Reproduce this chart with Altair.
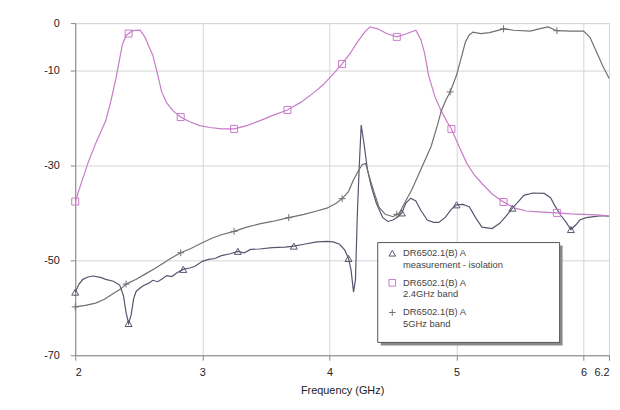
import altair as alt
import pandas as pd

# ---------------- data ----------------
iso_x = [2.00, 2.03, 2.06, 2.10, 2.14, 2.20, 2.24, 2.30, 2.35, 2.38, 2.40, 2.42, 2.44, 2.46, 2.48,
         2.53, 2.58, 2.61, 2.65, 2.68, 2.72, 2.76, 2.80, 2.85, 2.90, 2.94, 3.00, 3.05, 3.10, 3.15,
         3.22, 3.28, 3.33, 3.38, 3.45, 3.55, 3.65, 3.72, 3.80, 3.90, 3.98, 4.03, 4.08, 4.12, 4.15,
         4.17, 4.19, 4.205, 4.22, 4.235, 4.25, 4.27, 4.30, 4.33, 4.37, 4.42, 4.46, 4.50, 4.54, 4.57,
         4.60, 4.64, 4.68, 4.72, 4.77, 4.82, 4.86, 4.91, 4.96, 5.00, 5.05, 5.10, 5.15, 5.20, 5.28,
         5.34, 5.38, 5.44, 5.49, 5.53, 5.60, 5.69, 5.74, 5.77, 5.82, 5.86, 5.90, 5.94, 5.97, 6.02,
         6.08, 6.14, 6.20]
iso_y = [-56.7, -55.0, -54.0, -53.5, -53.3, -53.6, -54.0, -54.4, -55.2, -57.5, -61.0, -63.3, -61.5, -58.0, -56.5,
         -55.4, -54.8, -54.2, -54.5, -54.0, -53.2, -53.4, -52.6, -51.9, -51.6, -51.3, -50.2, -49.8, -49.6, -49.0,
         -48.6, -48.1, -48.4, -47.7, -47.6, -47.3, -47.2, -47.0, -46.6, -46.1, -46.0, -46.1, -46.6, -47.8, -49.6,
         -52.0, -56.7, -54.0, -40.0, -30.0, -21.5, -25.0, -31.0, -34.5, -38.0, -41.0, -41.8, -41.5, -40.8, -40.0,
         -38.0, -36.9, -37.5, -39.5, -41.5, -42.0, -42.0, -41.0, -39.2, -38.3, -38.2, -38.7, -41.0, -43.0, -43.3,
         -42.2, -41.0, -39.0, -37.5, -36.3, -35.8, -35.9, -36.8, -38.3, -40.5, -41.9, -43.5, -42.5, -41.5, -41.0,
         -40.8, -40.6, -40.7]

b24_x = [2.00, 2.05, 2.10, 2.16, 2.20, 2.24, 2.28, 2.32, 2.35, 2.37, 2.40, 2.42, 2.45, 2.51, 2.55,
         2.58, 2.61, 2.65, 2.68, 2.72, 2.77, 2.83, 2.90, 2.98, 3.06, 3.15, 3.25, 3.35, 3.45, 3.55,
         3.67, 3.78, 3.88, 3.95, 4.02, 4.10, 4.16, 4.22, 4.28, 4.32, 4.38, 4.45, 4.53, 4.60, 4.68,
         4.72, 4.75, 4.78, 4.83, 4.88, 4.93, 4.96, 5.02, 5.08, 5.14, 5.20, 5.28, 5.37, 5.46, 5.55,
         5.65, 5.79, 5.90, 6.00, 6.10, 6.20]
b24_y = [-37.6, -33.5, -29.5, -25.4, -23.0, -20.6, -16.5, -11.7, -7.5, -4.6, -2.6, -2.2, -1.6, -1.5, -3.0,
         -5.0, -6.7, -11.0, -14.5, -16.8, -18.5, -19.8, -20.8, -21.6, -22.0, -22.3, -22.3, -21.6, -20.6, -19.5,
         -18.3, -16.6, -14.6, -13.0, -11.0, -8.6, -6.5, -4.0, -1.8, -0.8, -1.2, -2.2, -2.9, -2.3, -1.5,
         -3.5, -6.5, -11.0, -15.5, -18.5, -21.0, -22.3, -26.0, -29.5, -32.0, -33.8, -36.0, -37.7, -39.0, -39.6,
         -39.8, -40.0, -40.2, -40.3, -40.4, -40.6]

b5_x = [2.00, 2.08, 2.16, 2.23, 2.30, 2.36, 2.40, 2.48, 2.55, 2.62, 2.68, 2.75, 2.83, 2.91, 3.00,
        3.08, 3.15, 3.25, 3.35, 3.45, 3.55, 3.68, 3.80, 3.90, 3.98, 4.05, 4.10, 4.15, 4.19, 4.23,
        4.26, 4.285, 4.31, 4.35, 4.39, 4.44, 4.50, 4.55, 4.60, 4.65, 4.70, 4.75, 4.80, 4.85, 4.88,
        4.92, 4.95, 5.00, 5.04, 5.07, 5.10, 5.13, 5.19, 5.26, 5.37, 5.45, 5.58, 5.65, 5.72, 5.79,
        5.90, 6.00, 6.05, 6.10, 6.15, 6.20]
b5_y = [-59.8, -59.5, -59.0, -58.2, -57.0, -56.0, -55.0, -54.0, -52.9, -51.8, -50.8, -49.6, -48.4, -47.5, -46.3,
        -45.3, -44.6, -43.9, -43.0, -42.3, -41.8, -41.0, -40.3, -39.6, -39.0, -38.0, -37.0, -35.5, -33.0, -31.0,
        -29.8, -29.6, -32.0, -35.5, -38.8, -40.3, -40.8, -40.0, -37.5, -35.0, -32.0, -29.0, -26.0, -21.5, -18.5,
        -16.0, -14.5, -11.0, -7.0, -4.0, -2.5, -1.9, -2.2, -2.0, -1.2, -1.5, -1.7, -1.2, -0.8, -1.6,
        -1.7, -1.7, -3.0, -6.0, -9.0, -11.6]

# marker positions
iso_mx = [2.00, 2.42, 2.85, 3.28, 3.72, 4.15, 4.57, 5.00, 5.44, 5.90]
iso_my = [-56.7, -63.3, -51.9, -48.1, -47.0, -49.6, -40.0, -38.3, -39.0, -43.5]
b24_mx = [2.00, 2.42, 2.83, 3.25, 3.67, 4.10, 4.53, 4.96, 5.37, 5.79]
b24_my = [-37.6, -2.2, -19.8, -22.3, -18.3, -8.6, -2.9, -22.3, -37.7, -40.0]
b5_mx = [2.00, 2.40, 2.83, 3.25, 3.68, 4.10, 4.53, 4.95, 5.37, 5.79]
b5_my = [-59.8, -55.0, -48.4, -43.9, -41.0, -37.0, -40.3, -14.5, -1.2, -1.6]

series_names = ["DR6502.1(B) A|measurement - isolation",
                "DR6502.1(B) A|2.4GHz band",
                "DR6502.1(B) A|5GHz band"]
series_colors = ["#55556f", "#c77bc7", "#707070"]
series_shapes = ["triangle-up", "square", "M-1,0L1,0M0,-1L0,1"]

x_ticks = [2, 3, 4, 5, 6, 6.2]
y_ticks = [0, -10, -30, -50, -70]

# ---------------- tables ----------------
lines_df = pd.concat([
    pd.DataFrame({"f": iso_x, "db": iso_y, "series": series_names[0]}),
    pd.DataFrame({"f": b24_x, "db": b24_y, "series": series_names[1]}),
    pd.DataFrame({"f": b5_x, "db": b5_y, "series": series_names[2]}),
])
marks_df = pd.concat([
    pd.DataFrame({"f": iso_mx, "db": iso_my, "series": series_names[0]}),
    pd.DataFrame({"f": b24_mx, "db": b24_my, "series": series_names[1]}),
    pd.DataFrame({"f": b5_mx, "db": b5_my, "series": series_names[2]}),
])

FONT = "Liberation Sans"

x_enc = alt.X("f:Q", scale=alt.Scale(domain=[2, 6.2], nice=False, zero=False),
              axis=alt.Axis(values=x_ticks, title="Frequency (GHz)",
                            labelExpr="datum.value == 6.2 ? '6.2' : format(datum.value, 'd')",
                            grid=True, gridColor="#d4d4d4", domainColor="#888", tickColor="#888",
                            tickSize=5, labelPadding=6, labelFontSize=11, labelColor="#222",
                            labelFont=FONT, titleFont=FONT, titleFontSize=11, titleColor="#222",
                            titleFontWeight="normal", titlePadding=8))
y_enc = alt.Y("db:Q", scale=alt.Scale(domain=[-70, 0], nice=False),
              axis=alt.Axis(values=y_ticks, title=None, grid=True, gridColor="#d4d4d4",
                            labelExpr="'' + datum.value",
                            domainColor="#888", tickColor="#888", tickSize=5, labelPadding=11,
                            labelFontSize=11, labelColor="#222", labelFont=FONT,
                            minExtent=32, maxExtent=32))

color_scale = alt.Scale(domain=series_names, range=series_colors)
shape_scale = alt.Scale(domain=series_names, range=series_shapes)

leg = alt.Legend(title=None, orient="none", legendX=316, legendY=228,
                 labelExpr="split(datum.label, '|')", labelFontSize=9.5, labelColor="#444",
                 labelFont=FONT, symbolSize=45, symbolStrokeWidth=1, rowPadding=8,
                 labelOffset=6, padding=0)

lines = alt.Chart(lines_df).mark_line(strokeWidth=1.2).encode(
    x=x_enc, y=y_enc,
    color=alt.Color("series:N", scale=color_scale, legend=leg),
    detail="series:N",
)
points = alt.Chart(marks_df).mark_point(filled=False, size=50, strokeWidth=1, opacity=1).encode(
    x=x_enc, y=y_enc,
    color=alt.Color("series:N", scale=color_scale, legend=leg),
    shape=alt.Shape("series:N", scale=shape_scale, legend=leg),
)

# legend frame (decoration) with drop shadow
box_df = pd.DataFrame({"k": [0]})
shadow = alt.Chart(box_df).mark_rect(fill="#8a8a8a").encode(
    x=alt.value(309), x2=alt.value(493), y=alt.value(225), y2=alt.value(326))
box = alt.Chart(box_df).mark_rect(fill="white", stroke="#555", strokeWidth=1).encode(
    x=alt.value(306), x2=alt.value(490), y=alt.value(222), y2=alt.value(323))

chart = alt.layer(lines, points, shadow, box).properties(
    width=540, height=336,
    padding={"left": 36, "top": 7, "right": 0, "bottom": 5},
).configure_view(stroke="#888", strokeWidth=1).configure(background="white")

chart.save("out.html", embed_options={"renderer": "svg", "actions": False})
